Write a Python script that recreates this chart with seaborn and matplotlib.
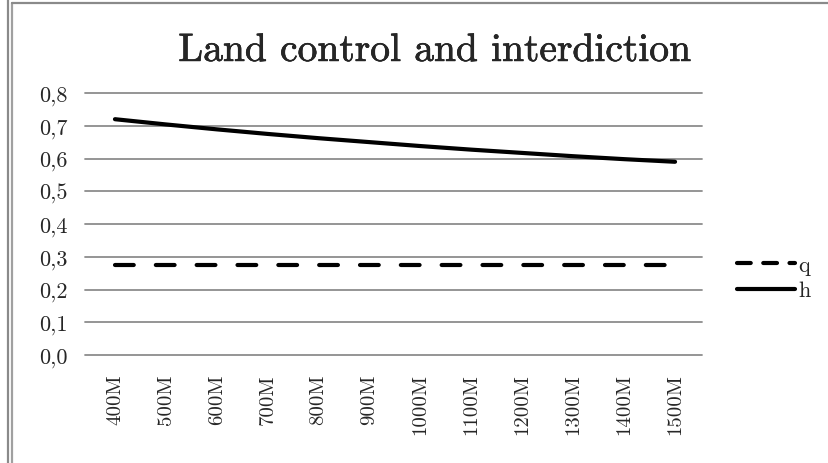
import matplotlib
matplotlib.use("Agg")
import matplotlib.pyplot as plt
import matplotlib.patheffects as pe
import seaborn as sns
import pandas as pd
from matplotlib.lines import Line2D

categories = ["400M", "500M", "600M", "700M", "800M", "900M", "1000M",
              "1100M", "1200M", "1300M", "1400M", "1500M"]
q_values = [0.275] * 12
h_values = [0.720, 0.704, 0.689, 0.675, 0.662, 0.650, 0.638,
            0.627, 0.617, 0.607, 0.598, 0.590]
y_ticks = [0.0, 0.1, 0.2, 0.3, 0.4, 0.5, 0.6, 0.7, 0.8]
y_tick_labels = ["0,0", "0,1", "0,2", "0,3", "0,4", "0,5", "0,6", "0,7", "0,8"]

sns.set_theme(style="white")
plt.rcParams["font.family"] = ["cmr10", "DejaVu Serif"]
plt.rcParams["axes.formatter.use_mathtext"] = True

df = pd.DataFrame({
    "cat": categories * 2,
    "value": q_values + h_values,
    "series": ["q"] * 12 + ["h"] * 12,
})

fig = plt.figure(figsize=(8.29, 4.64), dpi=100)
ax_left, ax_right = 89.5, 700.5
ax = fig.add_axes([ax_left / 829, 1 - 356 / 464, (ax_right - ax_left) / 829, (356 - 94) / 464])

sns.lineplot(data=df[df.series == "h"], x="cat", y="value", ax=ax,
             color="black", linewidth=3.0, sort=False, legend=False,
             solid_capstyle="round")
sns.lineplot(data=df[df.series == "q"], x="cat", y="value", ax=ax,
             color="black", linewidth=3.0, sort=False, legend=False)
qline = ax.lines[-1]
qline.set_dashes((4.5, 5.3))
qline.set_dash_capstyle("round")

ax.set_xlim(-0.5, len(categories) - 0.5)
ax.set_ylim(0, 0.8)
ax.set_yticks(y_ticks)
ax.set_yticklabels(y_tick_labels, fontsize=16)
ax.set_xticks(range(len(categories)))
ax.set_xticklabels(categories, rotation=90, fontsize=15)
ax.tick_params(axis="x", pad=13, length=0)
ax.tick_params(axis="y", pad=16, length=0)
ax.set_xlabel("")
ax.set_ylabel("")
for s in ax.spines.values():
    s.set_visible(False)
ax.grid(axis="y", color="#8c8c8c", linewidth=1.3)
ax.grid(axis="x", visible=False)
ax.set_axisbelow(True)
w = ax_right - ax_left
for gl in ax.get_ygridlines():
    gl.set_xdata([(85 - ax_left) / w, (702 - ax_left) / w])
    gl.set_clip_on(False)

fig.text(435 / 829, 1 - 52 / 464, "Land control and interdiction", fontsize=28.5,
         ha="center", va="center",
         path_effects=[pe.withStroke(linewidth=0.4, foreground="black")])

handles = [Line2D([], [], color="black", linewidth=3.0, dashes=(3.3, 3.0),
                  dash_capstyle="round"),
           Line2D([], [], color="black", linewidth=3.0, solid_capstyle="round")]
leg = fig.legend(handles, ["q", "h"], loc="center left",
                 bbox_to_anchor=(717 / 829, 1 - 279 / 464), frameon=False,
                 fontsize=16, handlelength=2.6, handletextpad=0.15,
                 labelspacing=0.25)

# outer frame
fig.add_artist(Line2D([8.5 / 829, 8.5 / 829], [0, 1], transform=fig.transFigure,
                      color="#8a8a8a", linewidth=1.6))
fig.add_artist(Line2D([12 / 829, 12 / 829], [0, 1 - 4 / 464], transform=fig.transFigure,
                      color="#a0a0a0", linewidth=1.6))
fig.add_artist(Line2D([12 / 829, 1], [1 - 4 / 464, 1 - 4 / 464], transform=fig.transFigure,
                      color="#8a8a8a", linewidth=1.6))

fig.savefig("out.png", dpi=100, facecolor="white")
